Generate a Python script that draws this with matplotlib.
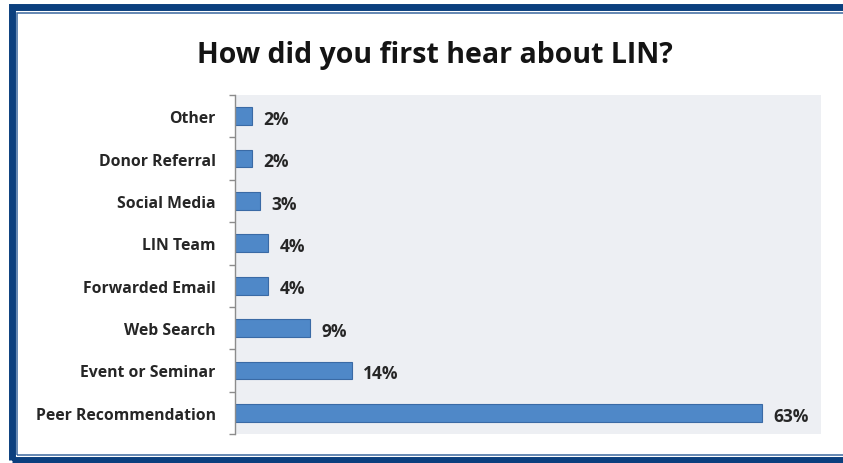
import matplotlib
matplotlib.use("Agg")
import matplotlib.pyplot as plt
from matplotlib.patches import Rectangle

# survey answers, listed bottom to top
sources = ["Peer Recommendation", "Event or Seminar", "Web Search", "Forwarded Email",
           "LIN Team", "Social Media", "Donor Referral", "Other"]
shares = [63, 14, 9, 4, 4, 3, 2, 2]

W, H = 843, 464
fig = plt.figure(figsize=(W / 100, H / 100), dpi=100)
fig.patch.set_facecolor("white")

# dark blue frame with a thin inner line (open on the right side)
def px_rect(x0, y0, x1, y1, **kw):
    return Rectangle((x0 / W, 1 - y1 / H), (x1 - x0) / W, (y1 - y0) / H,
                     transform=fig.transFigure, fill=False, **kw)

fig.add_artist(px_rect(12, 7.5, 920, 461, edgecolor="#0b3f7e", linewidth=5.0))
fig.add_artist(px_rect(17, 14, 920, 455.5, edgecolor="#3b679e", linewidth=1.1))

ax = fig.add_axes([235 / W, 1 - 435 / H, (821 - 235) / W, (435 - 96) / H])
ax.set_facecolor("#edeff3")

ypos = list(range(len(sources)))
bars = ax.barh(ypos, shares, height=0.42, color="#4f88c8", edgecolor="#3a6aa5", linewidth=0.8)

for y, v in zip(ypos, shares):
    ax.annotate(f"{v}%", xy=(v, y), xytext=(8, -2), textcoords="offset points",
                va="center", ha="left", fontsize=12.5, fontweight="bold",
                color="#262626", family="Open Sans")

ax.set_xlim(0, 70)
ax.set_ylim(-0.5, len(sources) - 0.5)
ax.set_xticks([])
ax.set_yticks(ypos)
ax.set_yticklabels(sources, fontsize=11.3, fontweight="bold", color="#262626", family="Open Sans")
ax.set_yticks([i - 0.5 for i in range(len(sources) + 1)], minor=True)
ax.tick_params(axis="y", which="major", length=0, pad=14)
ax.tick_params(axis="y", which="minor", length=4, direction="out", color="#8c8c8c", width=1)

for side in ["top", "right", "bottom"]:
    ax.spines[side].set_visible(False)
ax.spines["left"].set_color("#8c8c8c")
ax.spines["left"].set_linewidth(1)

fig.text(435 / W, 1 - 55 / H, "How did you first hear about LIN?", ha="center", va="center",
         fontsize=20.5, fontweight="bold", color="#141414", family="Open Sans")

fig.savefig("out.png", dpi=100)
